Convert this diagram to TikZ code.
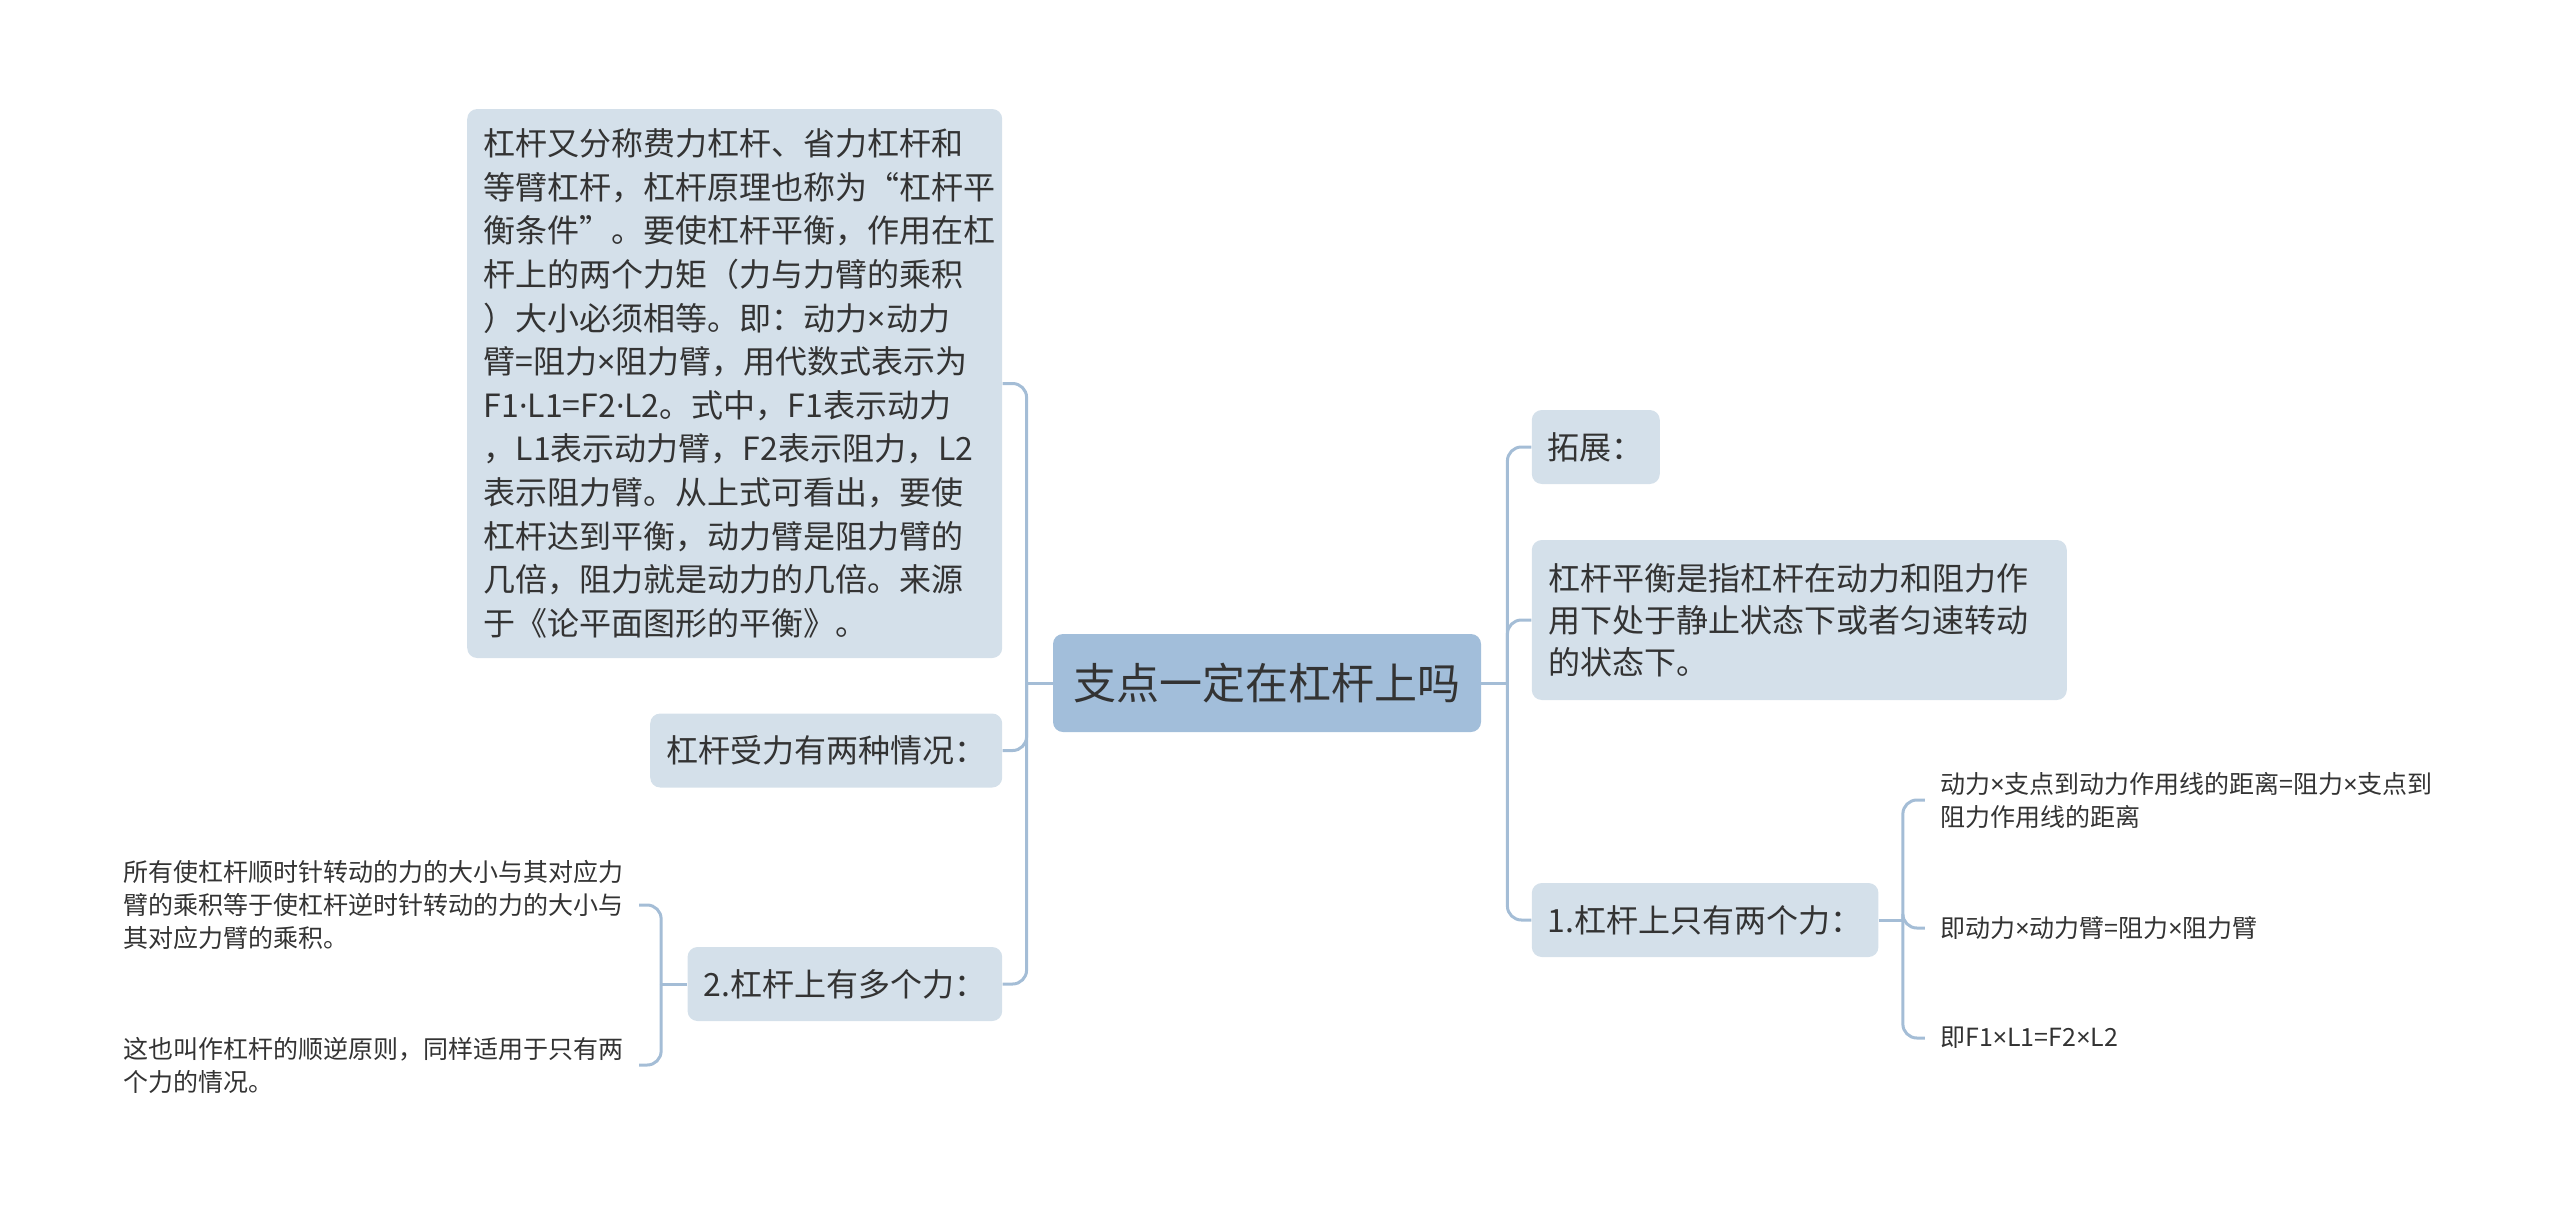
\documentclass[tikz,border=0pt]{standalone}
\usepackage{fontspec}
\setmainfont{Noto Sans CJK SC}
\newfontfamily\latinfont{Noto Sans}
\usepackage{xcolor}
\usepackage{tikz}
\usetikzlibrary{positioning}
\definecolor{mapline}{HTML}{A4BDD6}
\definecolor{mapcentre}{HTML}{A2BEDA}
\definecolor{mapbox}{HTML}{D4E0EA}
\definecolor{maptext}{HTML}{333333}
\newcommand{\tms}{{\latinfont ×}}
\newcommand{\mdot}{{\latinfont ·}}
\tikzset{
    rootbox/.style={rectangle, rounded corners=5pt, fill=mapcentre, text=maptext, minimum width=214pt, minimum height=49pt, inner xsep=10pt, font=\fontsize{21.5pt}{26pt}\selectfont},
    topic/.style={rectangle, rounded corners=5pt, fill=mapbox, text=maptext, minimum height=37pt, inner xsep=8pt, align=left, font=\fontsize{16pt}{20pt}\selectfont},
    para/.style={topic, text width=251pt, inner xsep=8.25pt},
    leaf/.style={text=maptext, inner xsep=7.5pt, align=left, font=\fontsize{12.5pt}{16.5pt}\selectfont},
    branch/.style={draw=mapline, line width=1.5pt, rounded corners=7pt}
}

\begin{document}
\begin{tikzpicture}[x=0.5pt, y=-0.5pt]
    \useasboundingbox (0,0) rectangle (2560,1217);

    \node (root) [rootbox] at (1267,683) {支点一定在杠杆上吗};

    % right side
    \node (ext) [topic, right=25pt of root, yshift=118pt] {拓展：};
    \node (balance) [para, right=25pt of root, yshift=31.5pt, minimum height=80pt, font=\fontsize{16pt}{21pt}\selectfont] {杠杆平衡是指杠杆在动力和阻力作\\用下处于静止状态下或者匀速转动\\的状态下。};
    \node (two) [topic, right=25pt of root, yshift=-118.5pt] {1.杠杆上只有两个力：};
    \node (twoa) [leaf, right=23pt of two, yshift=60pt] {动力\tms 支点到动力作用线的距离=阻力\tms 支点到\\阻力作用线的距离};
    \node (twob) [leaf, right=23pt of two, yshift=-4pt] {即动力\tms 动力臂=阻力\tms 阻力臂};
    \node (twoc) [leaf, right=23pt of two, yshift=-59pt] {即F1\tms L1=F2\tms L2};

    % left side
    \node (big) [para, left=25pt of root, yshift=149.75pt, minimum height=274.5pt, font=\fontsize{16pt}{21.8pt}\selectfont] {杠杆又分称费力杠杆、省力杠杆和\\等臂杠杆，杠杆原理也称为“杠杆平\\衡条件”。要使杠杆平衡，作用在杠\\杆上的两个力矩（力与力臂的乘积\\）大小必须相等。即：动力\tms 动力\\臂=阻力\tms 阻力臂，用代数式表示为\\F1\mdot L1=F2\mdot L2。式中，F1表示动力\\，L1表示动力臂，F2表示阻力，L2\\表示阻力臂。从上式可看出，要使\\杠杆达到平衡，动力臂是阻力臂的\\几倍，阻力就是动力的几倍。来源\\于《论平面图形的平衡》。};
    \node (cases) [topic, left=25pt of root, yshift=-33.75pt] {杠杆受力有两种情况：};
    \node (multi) [topic, left=25pt of root, yshift=-150.5pt] {2.杠杆上有多个力：};
    \node (multia) [leaf, left=24pt of multi, yshift=39.5pt] {所有使杠杆顺时针转动的力的大小与其对应力\\臂的乘积等于使杠杆逆时针转动的力的大小与\\其对应力臂的乘积。};
    \node (multib) [leaf, left=24pt of multi, yshift=-40.5pt] {这也叫作杠杆的顺逆原则，同样适用于只有两\\个力的情况。};

    % connectors
    \draw [branch] (root.east) -- ++(13pt,0) coordinate (rjoint);
    \foreach \n in {ext, balance, two}
        \draw [branch] (rjoint) |- (\n.west);
    \draw [branch] (root.west) -- ++(-13pt,0) coordinate (ljoint);
    \foreach \n in {big, cases, multi}
        \draw [branch] (ljoint) |- (\n.east);
    \draw [branch] (two.east) -- ++(12pt,0) coordinate (tjoint);
    \foreach \n in {twoa, twob, twoc}
        \draw [branch] (tjoint) |- (\n.west);
    \draw [branch] (multi.west) -- ++(-13pt,0) coordinate (mjoint);
    \foreach \n in {multia, multib}
        \draw [branch] (mjoint) |- (\n.east);
\end{tikzpicture}
\end{document}
